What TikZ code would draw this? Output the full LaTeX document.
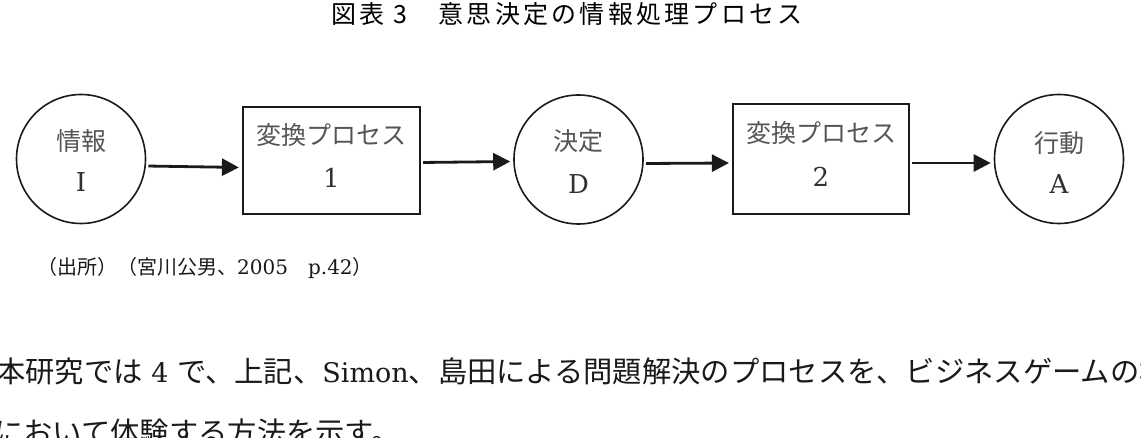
\documentclass[tikz,border=0pt]{standalone}
\usepackage{fontspec}
\newfontfamily\cjk{Noto Sans CJK JP}
\newfontfamily\cjktitle[LetterSpace=13]{Noto Sans CJK JP}
\newfontfamily\lat{DejaVu Serif}
\usetikzlibrary{arrows.meta}
\definecolor{ink}{HTML}{1A1A1A}
\definecolor{soft}{HTML}{555555}
\tikzset{
  circ/.style={circle, draw=ink, line width=1.6pt, minimum size=129pt, inner sep=0pt},
  boxn/.style={rectangle, draw=ink, line width=2.2pt, inner sep=0pt},
  jlab/.style={font=\cjk\fontsize{25}{28}\selectfont, text=soft, inner sep=0pt},
  llab/.style={font=\lat\fontsize{26}{30}\selectfont, text=ink!90, inner sep=0pt},
  arr/.style={draw=ink, line width=2.8pt, -{Triangle[length=17pt,width=17pt]}, shorten <=2pt, shorten >=3pt},
  body/.style={font=\fontsize{29.3}{32}\selectfont, text=ink, inner sep=0pt, anchor=base west},
}
\begin{document}
\begin{tikzpicture}[x=1pt,y=-1pt]
\path[use as bounding box] (0,0) rectangle (1141,438);
\fill[white] (0,0) rectangle (1141,438);
\clip (0,0) rectangle (1141,438);

% title
\node[font=\cjktitle\fontsize{25}{28}\selectfont, text=black, inner sep=0pt] (title) at (567,14) {図表 3　意思決定の情報処理プロセス};

% nodes
\node[circ] (I) at (81,159) {};
\node[jlab] (It) at ([yshift=18pt]I.center) {情報};
\node[llab] (Il) at ([yshift=-23pt]I.center) {I};

\node[boxn, minimum width=177pt, minimum height=107pt] (B1) at (331.5,160.5) {};
\node[jlab] (B1t) at ([yshift=25.5pt]B1.center) {変換プロセス};
\node[llab] (B1l) at ([yshift=-17.5pt]B1.center) {1};

\node[circ] (D) at (578.5,159.5) {};
\node[jlab] (Dt) at ([yshift=18.5pt]D.center) {決定};
\node[llab] (Dl) at ([yshift=-24.5pt]D.center) {D};

\node[boxn, minimum width=176pt, minimum height=110pt] (B2) at (821,159) {};
\node[jlab] (B2t) at ([yshift=26pt]B2.center) {変換プロセス};
\node[llab] (B2l) at ([yshift=-18pt]B2.center) {2};

\node[circ] (A) at (1059,159) {};
\node[jlab] (At) at ([yshift=16pt]A.center) {行動};
\node[llab] (Al) at ([yshift=-25pt]A.center) {A};

% connectors
\draw[arr] ([yshift=-7pt]I.east) -- ([yshift=-7pt]B1.west);
\draw[arr] ([yshift=-2pt]B1.east) -- ([yshift=-2pt]D.west);
\draw[arr] ([yshift=-4pt]D.east) -- ([yshift=-4pt]B2.west);
\draw[arr] ([yshift=-4pt]B2.east) -- ([yshift=-4pt]A.west);

% source
\node[font=\lat\fontsize{20}{24}\selectfont, text=ink, inner sep=0pt, anchor=west] (src) at (37,268)
  {{\cjk\fontsize{20}{24}\selectfont （出所）（宮川公男、}2005{\cjk\fontsize{20}{24}\selectfont 　}p.42{\cjk\fontsize{20}{24}\selectfont ）}};

% body text
\node[body] (line1) at (-4,383)
  {{\cjk 本研究では}{\lat\fontsize{27}{32}\selectfont{} 4 }{\cjk で、上記、}{\lat\fontsize{27}{32}\selectfont Simon}{\cjk 、島田による問題解決のプロセスを、ビジネスゲームの場}};
\node[body] (line2) at (-6,443)
  {{\cjk において体験する方法を示す。}};
\end{tikzpicture}
\end{document}
